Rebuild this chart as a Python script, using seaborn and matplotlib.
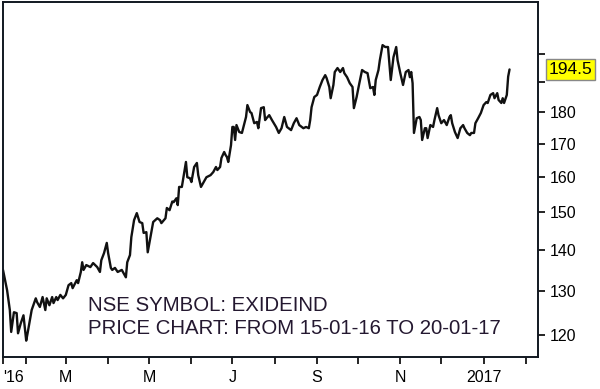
import pandas as pd
import matplotlib
matplotlib.use("Agg")
import matplotlib.pyplot as plt
import matplotlib.ticker as mticker
import seaborn as sns

# --- Data (EXIDEIND close, 15-01-16 to 20-01-17) ---

dates = [
    "2016-01-15", "2016-01-18", "2016-01-20", "2016-01-21", "2016-01-23", "2016-01-25",
    "2016-01-26", "2016-01-28", "2016-01-30", "2016-02-01", "2016-02-02", "2016-02-05",
    "2016-02-08", "2016-02-09", "2016-02-11", "2016-02-13", "2016-02-15", "2016-02-16",
    "2016-02-18", "2016-02-20", "2016-02-21", "2016-02-23", "2016-02-24", "2016-02-26",
    "2016-02-28", "2016-03-01", "2016-03-03", "2016-03-05", "2016-03-06", "2016-03-09",
    "2016-03-10", "2016-03-12", "2016-03-13", "2016-03-14", "2016-03-16", "2016-03-19",
    "2016-03-21", "2016-03-24", "2016-03-26", "2016-03-27", "2016-03-29", "2016-03-31",
    "2016-04-01", "2016-04-03", "2016-04-04", "2016-04-06", "2016-04-08", "2016-04-11",
    "2016-04-14", "2016-04-15", "2016-04-17", "2016-04-18", "2016-04-20", "2016-04-22",
    "2016-04-24", "2016-04-26", "2016-04-27", "2016-04-29", "2016-04-30", "2016-05-02",
    "2016-05-04", "2016-05-07", "2016-05-09", "2016-05-10", "2016-05-13", "2016-05-14",
    "2016-05-16", "2016-05-18", "2016-05-19", "2016-05-21", "2016-05-22", "2016-05-23",
    "2016-05-25", "2016-05-28", "2016-05-29", "2016-05-31", "2016-06-01", "2016-06-03",
    "2016-06-05", "2016-06-06", "2016-06-08", "2016-06-10", "2016-06-12", "2016-06-15",
    "2016-06-17", "2016-06-19", "2016-06-20", "2016-06-22", "2016-06-23", "2016-06-25",
    "2016-06-26", "2016-06-27", "2016-06-28", "2016-06-30", "2016-07-01", "2016-07-02",
    "2016-07-03", "2016-07-04", "2016-07-06", "2016-07-08", "2016-07-11", "2016-07-12",
    "2016-07-14", "2016-07-15", "2016-07-17", "2016-07-19", "2016-07-20", "2016-07-22",
    "2016-07-24", "2016-07-25", "2016-07-26", "2016-07-28", "2016-07-30", "2016-08-02",
    "2016-08-04", "2016-08-06", "2016-08-08", "2016-08-10", "2016-08-13", "2016-08-15",
    "2016-08-17", "2016-08-19", "2016-08-22", "2016-08-24", "2016-08-26", "2016-08-27",
    "2016-08-28", "2016-08-30", "2016-09-01", "2016-09-03", "2016-09-05", "2016-09-07",
    "2016-09-08", "2016-09-10", "2016-09-11", "2016-09-13", "2016-09-14", "2016-09-16",
    "2016-09-18", "2016-09-20", "2016-09-21", "2016-09-23", "2016-09-25", "2016-09-27",
    "2016-09-28", "2016-09-30", "2016-10-02", "2016-10-04", "2016-10-06", "2016-10-08",
    "2016-10-10", "2016-10-12", "2016-10-13", "2016-10-14", "2016-10-16", "2016-10-17",
    "2016-10-19", "2016-10-21", "2016-10-23", "2016-10-24", "2016-10-25", "2016-10-27",
    "2016-10-29", "2016-10-30", "2016-11-01", "2016-11-03", "2016-11-05", "2016-11-07",
    "2016-11-08", "2016-11-09", "2016-11-10", "2016-11-11", "2016-11-13", "2016-11-15",
    "2016-11-16", "2016-11-17", "2016-11-19", "2016-11-20", "2016-11-21", "2016-11-23",
    "2016-11-25", "2016-11-26", "2016-11-28", "2016-11-29", "2016-12-01", "2016-12-03",
    "2016-12-05", "2016-12-07", "2016-12-08", "2016-12-09", "2016-12-11", "2016-12-13",
    "2016-12-15", "2016-12-17", "2016-12-18", "2016-12-20", "2016-12-22", "2016-12-23",
    "2016-12-25", "2016-12-26", "2016-12-28", "2016-12-30", "2017-01-01", "2017-01-03",
    "2017-01-04", "2017-01-06", "2017-01-08", "2017-01-09", "2017-01-11", "2017-01-12",
    "2017-01-14", "2017-01-15", "2017-01-16", "2017-01-18", "2017-01-19", "2017-01-20",
]

prices = [
    135.1, 130.2, 125.6, 120.7, 125.1, 124.9,
    120.4, 122.6, 124.4, 118.8, 120.4, 125.6,
    128.3, 127.4, 126.3, 128.6, 125.6, 128.3,
    126.7, 128.6, 127.2, 128.6, 127.9, 129.1,
    128.3, 129.1, 131.4, 131.9, 130.7, 132.6,
    131.9, 134.6, 137.0, 135.1, 136.3, 135.8,
    136.8, 135.8, 134.6, 137.5, 139.3, 141.9,
    139.3, 135.6, 135.1, 135.6, 134.6, 135.1,
    133.3, 137.0, 138.8, 143.4, 147.9, 149.8,
    147.4, 147.1, 144.5, 144.7, 139.5, 143.4,
    147.4, 148.4, 147.9, 147.1, 148.4, 151.2,
    150.6, 153.0, 152.8, 153.9, 152.0, 157.1,
    157.1, 164.4, 159.9, 159.6, 158.5, 162.9,
    164.1, 160.5, 157.1, 158.5, 159.9, 160.5,
    161.4, 162.9, 162.0, 162.9, 165.6, 167.4,
    166.5, 165.9, 164.4, 169.5, 175.2, 175.2,
    171.1, 175.8, 173.6, 173.3, 178.4, 182.3,
    180.0, 179.7, 176.4, 176.8, 174.8, 181.3,
    181.6, 177.4, 178.0, 179.0, 177.4, 175.2,
    173.3, 174.8, 178.4, 175.2, 174.2, 176.4,
    178.0, 175.8, 174.8, 175.2, 174.8, 177.4,
    181.6, 185.0, 185.7, 188.4, 190.8, 192.5,
    191.5, 188.4, 184.6, 189.1, 193.6, 195.0,
    193.6, 195.0, 193.2, 191.8, 189.7, 188.4,
    181.3, 185.0, 189.7, 194.3, 193.6, 193.2,
    188.0, 188.4, 185.7, 190.8, 194.3, 197.8,
    203.3, 202.6, 202.6, 196.8, 190.8, 198.9,
    202.6, 197.8, 193.2, 189.1, 193.6, 194.3,
    191.8, 193.6, 189.7, 173.3, 178.0, 178.4,
    177.4, 171.1, 174.8, 174.8, 171.7, 175.8,
    175.2, 177.4, 181.3, 179.0, 176.4, 177.4,
    175.8, 178.4, 179.0, 176.4, 173.6, 171.7,
    174.8, 175.8, 174.8, 173.3, 172.6, 173.3,
    173.3, 176.4, 178.0, 179.7, 182.3, 183.3,
    183.0, 185.7, 186.3, 184.6, 186.3, 184.0,
    183.0, 184.6, 183.0, 185.7, 192.0, 194.5,
]

last_price = "194.5"

# axis ticks
x_major = ["2016-01-15", "2016-03-01", "2016-05-01", "2016-07-01",
           "2016-09-01", "2016-11-01", "2017-01-01"]
x_major_labels = ["'16", "M", "M", "J", "S", "N", "2017"]
x_minor = ["2016-02-01", "2016-04-01", "2016-06-01", "2016-08-01",
           "2016-10-01", "2016-12-01", "2017-02-01"]
y_ticks = [120, 130, 140, 150, 160, 170, 180, 190, 200]
y_labels = ["120", "130", "140", "150", "160", "170", "180", "", ""]

df = pd.DataFrame({"date": pd.to_datetime(dates), "price": prices})

# --- Plot ---

sns.set_style("ticks")
plt.rcParams["font.family"] = ["Liberation Sans", "DejaVu Sans"]

fig = plt.figure(figsize=(6, 3.89), dpi=100)
ax = fig.add_axes([0.005, 0.082, 0.892, 0.913])

sns.lineplot(data=df, x="date", y="price", color="#111111", linewidth=1.7, ax=ax)

ax.set_yscale("log")
ax.set_ylim(115.3, 219.9)
ax.set_xlim(pd.Timestamp("2016-01-15"), pd.Timestamp("2017-02-10"))

ax.yaxis.tick_right()
ax.set_yticks(y_ticks)
ax.set_yticklabels(y_labels)
ax.yaxis.set_minor_locator(mticker.NullLocator())

ax.set_xticks(pd.to_datetime(x_major))
ax.set_xticklabels(x_major_labels)
ax.set_xticks(pd.to_datetime(x_minor), minor=True)
ax.get_xticklabels()[0].set_horizontalalignment("left")

ax.tick_params(axis="both", which="both", direction="out", length=5, width=1.2,
               color="black", labelsize=11.5, labelcolor="black")
ax.tick_params(axis="x", pad=4)
ax.tick_params(axis="y", pad=3)

for s in ax.spines.values():
    s.set_visible(True)
    s.set_color("#111820")
    s.set_linewidth(1.4)

ax.set_xlabel("")
ax.set_ylabel("")

# last price box
ax.text(1.02, 194.5, last_price, transform=ax.get_yaxis_transform(),
        ha="left", va="center", fontsize=12.5, color="black",
        bbox=dict(boxstyle="square,pad=0.15", facecolor="#ffff00", edgecolor="#888888", linewidth=1))

# annotation text
ax.text(0.159, 0.13, "NSE SYMBOL: EXIDEIND", transform=ax.transAxes,
        ha="left", va="baseline", fontsize=14.7, color="#241830")
ax.text(0.159, 0.065, "PRICE CHART: FROM 15-01-16 TO 20-01-17", transform=ax.transAxes,
        ha="left", va="baseline", fontsize=14.7, color="#241830")

fig.savefig("out.png", dpi=100)
